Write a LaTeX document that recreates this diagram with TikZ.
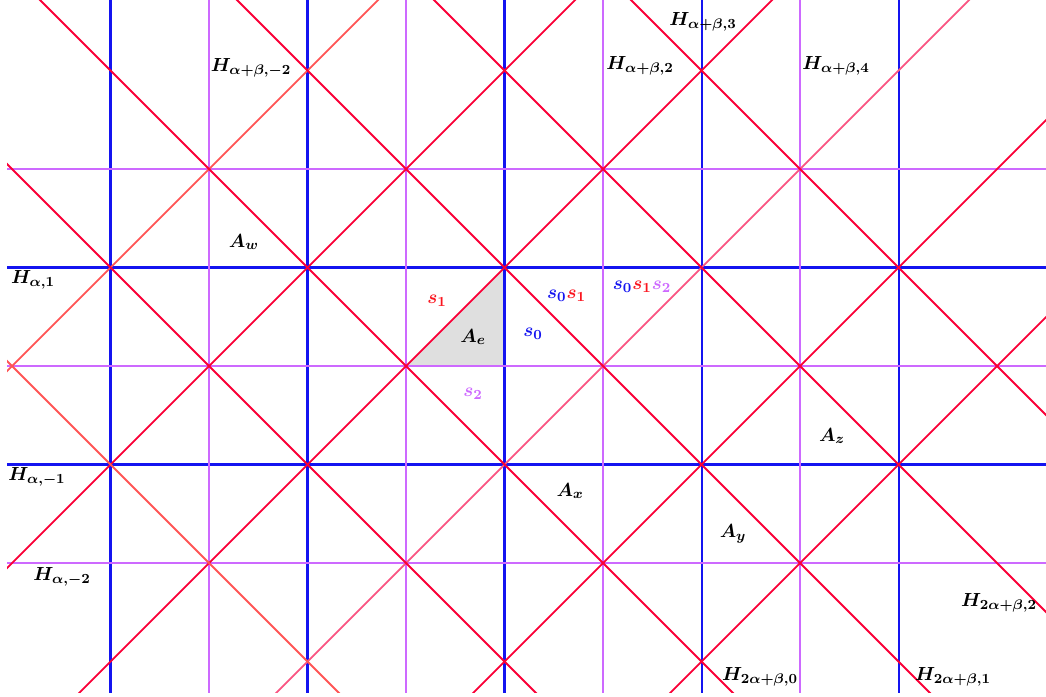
\documentclass[tikz,border=0pt]{standalone}
\usepackage{bm}
\definecolor{hblue}{RGB}{20,20,240}
\definecolor{hviolet}{RGB}{205,105,255}
\definecolor{hred}{RGB}{250,0,55}
\definecolor{hsalmon}{RGB}{255,85,85}
\definecolor{hpink}{RGB}{250,85,130}
\definecolor{slred}{RGB}{250,20,30}
\begin{document}
\begin{tikzpicture}[x=2cm,y=2cm,
  bluel/.style={draw=hblue,line width=1.2pt},
  violetl/.style={draw=hviolet,line width=1.2pt},
  redl/.style={line width=1.05pt},
  lbl/.style={inner sep=0pt,font=\fontsize{11.2}{13}\selectfont}]
\useasboundingbox (-4.122,-3.350) rectangle (6.497,3.716);
\fill[gray!25] (0,0) -- (1,0) -- (1,1) -- cycle;
\begin{scope}
\clip (-4.05,-3.31) rectangle (6.6,3.8);
\path[bluel] (-3,-4) -- (-3,4) (-1,-4) -- (-1,4) (1,-4) -- (1,4) (3,-4) -- (3,4) (5,-4) -- (5,4)
  (-5,-1) -- (7,-1) (-5,1) -- (7,1);
\path[violetl] (-2,-4) -- (-2,4) (0,-4) -- (0,4) (2,-4) -- (2,4) (4,-4) -- (4,4)
  (-5,-2) -- (7,-2) (-5,0) -- (7,0) (-5,2) -- (7,2);
% lines x - y = c
\path[redl,draw=hsalmon] (-8,-4) -- (0,4);
\path[redl,draw=hred] (-6,-4) -- (2,4) (-4,-4) -- (4,4) (0,-4) -- (8,4) (2,-4) -- (10,4);
\path[redl,draw=hpink] (-2,-4) -- (6,4);
% lines x + y = c
\path[redl,draw=hsalmon] (0,-4) -- (-8,4);
\path[redl,draw=hred] (2,-4) -- (-6,4) (4,-4) -- (-4,4) (6,-4) -- (-2,4) (8,-4) -- (0,4) (10,-4) -- (2,4);
\end{scope}
\node[lbl] (habm2) at (-1.574,3.025) {$\bm{H_{\alpha+\beta,-2}}$};
\node[lbl] (hab2) at (2.376,3.046) {$\bm{H_{\alpha+\beta,2}}$};
\node[lbl] (hab3) at (3.015,3.492) {$\bm{H_{\alpha+\beta,3}}$};
\node[lbl] (hab4) at (4.365,3.046) {$\bm{H_{\alpha+\beta,4}}$};
\node[lbl] (ha1) at (-3.787,0.873) {$\bm{H_{\alpha,1}}$};
\node[lbl] (ham1) at (-3.746,-1.127) {$\bm{H_{\alpha,-1}}$};
\node[lbl] (ham2) at (-3.492,-2.142) {$\bm{H_{\alpha,-2}}$};
\node[lbl] (h2ab0) at (3.594,-3.157) {$\bm{H_{2\alpha+\beta,0}}$};
\node[lbl] (h2ab1) at (5.553,-3.157) {$\bm{H_{2\alpha+\beta,1}}$};
\node[lbl] (h2ab2) at (6.020,-2.406) {$\bm{H_{2\alpha+\beta,2}}$};
\node[lbl] (aw) at (-1.645,1.259) {$\bm{A_w}$};
\node[lbl] (ae) at (0.68,0.294) {$\bm{A_e}$};
\node[lbl] (ax) at (1.665,-1.269) {$\bm{A_x}$};
\node[lbl] (ay) at (3.32,-1.706) {$\bm{A_y}$};
\node[lbl] (az) at (4.325,-0.711) {$\bm{A_z}$};
\node[lbl,text=slred] (s1) at (0.315,0.66) {$\bm{s_1}$};
\node[lbl,text=hblue] (s0) at (1.289,0.325) {$\bm{s_0}$};
\node[lbl,text=hviolet] (s2) at (0.68,-0.284) {$\bm{s_2}$};
\node[lbl] (s0s1) at (1.63,0.71) {\textcolor{hblue}{$\bm{s_0}$}\textcolor{slred}{$\bm{s_1}$}};
\node[lbl] (s0s1s2) at (2.396,0.802) {\textcolor{hblue}{$\bm{s_0}$}\textcolor{slred}{$\bm{s_1}$}\textcolor{hviolet}{$\bm{s_2}$}};
\end{tikzpicture}
\end{document}
